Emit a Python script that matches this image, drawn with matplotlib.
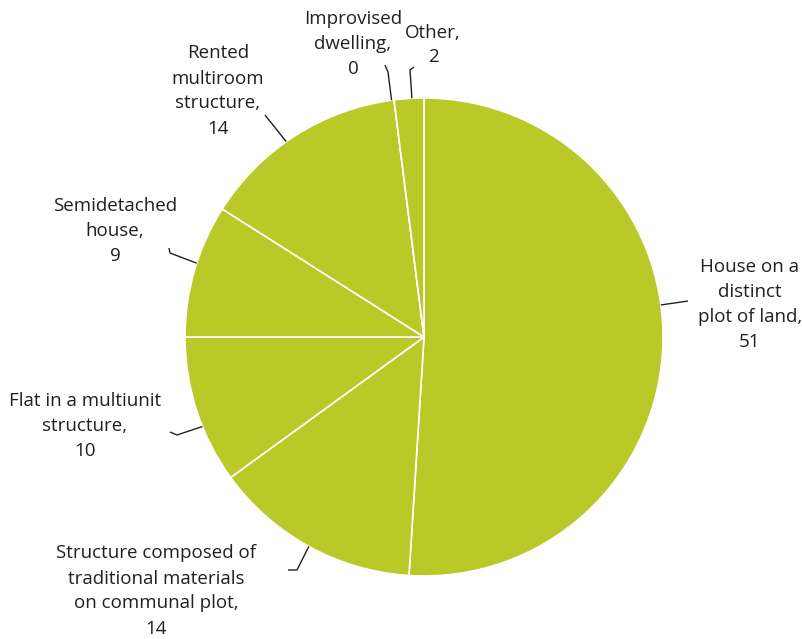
import numpy as np
import matplotlib
matplotlib.use("Agg")
import matplotlib.pyplot as plt

categories = [
    "House on a\ndistinct\nplot of land",
    "Structure composed of\ntraditional materials\non communal plot",
    "Flat in a multiunit\nstructure",
    "Semidetached\nhouse",
    "Rented\nmultiroom\nstructure",
    "Improvised\ndwelling",
    "Other",
]
values = [51, 14, 10, 9, 14, 0, 2]

W, H = 803, 639
fig = plt.figure(figsize=(W / 100, H / 100), dpi=100)
ax = fig.add_axes([0, 0, 1, 1])
ax.set_xlim(0, W)
ax.set_ylim(0, H)
ax.set_aspect("equal")
ax.axis("off")

cx, cy, r = 424, H - 337, 239
green = "#b9c927"
text_color = "#231f20"

wedges, _ = ax.pie(values, startangle=90, counterclock=False,
                   center=(cx, cy), radius=r, colors=[green] * len(values),
                   wedgeprops=dict(edgecolor="white", linewidth=1.2))
ax.set_xlim(0, W)
ax.set_ylim(0, H)

# label layout: text centre (px), leader attach angle on rim (deg, clockwise from top),
# leader path points after the rim point (px)
layout = [
    dict(text=(750, 305), ang=82.3, path=[(688, 301)]),
    dict(text=(156, 591), ang=208.8, path=[(297, 570), (288, 570)]),
    dict(text=(85, 426), ang=248, path=[(177, 435), (170, 432)]),
    dict(text=(115, 231), ang=288, path=[(170, 253), (169, 248)]),
    dict(text=(218, 91), ang=324.8, path=[(265, 115)]),
    dict(text=(353, 44), ang=352.2, path=[(388, 72), (385, 65)]),
    dict(text=(433, 45), ang=357.1, path=[(410, 70), (414, 67)]),
]

for cat, val, lay in zip(categories, values, layout):
    a = np.deg2rad(lay["ang"])
    x0 = cx + r * np.sin(a)
    y0 = cy + r * np.cos(a)
    xs = [x0] + [p[0] for p in lay["path"]]
    ys = [y0] + [H - p[1] for p in lay["path"]]
    ax.plot(xs, ys, color=text_color, lw=1.0, solid_capstyle="butt")
    tx, ty = lay["text"]
    ax.text(tx, H - ty, f"{cat},\n{val}", ha="center", va="center",
            fontsize=13.5, family="Open Sans", color=text_color, linespacing=1.5)

fig.savefig("out.png", dpi=100)
